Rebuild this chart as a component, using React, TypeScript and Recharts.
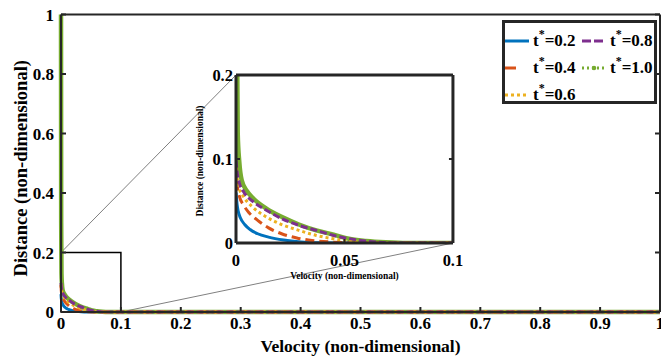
import React from 'react';
import {
  LineChart,
  Line,
  XAxis,
  YAxis,
  ReferenceArea,
  ReferenceLine,
  Legend,
  CartesianGrid,
} from 'recharts';

// ---------------- data ----------------
const VEL_T02 = [0, 0.0005, 0.001, 0.002, 0.004, 0.0065, 0.01, 0.015, 0.022, 0.03, 0.04, 0.05, 1];
const DIST_T02 = [0.06, 0.046, 0.038, 0.03, 0.022, 0.016, 0.011, 0.007, 0.0035, 0.0013, 0.0003, 0, 0];

const VEL_T04 = [0, 0.0005, 0.0015, 0.0035, 0.006, 0.01, 0.015, 0.021, 0.028, 0.035, 0.045, 0.055, 1];
const DIST_T04 = [0.09, 0.07, 0.056, 0.045, 0.036, 0.027, 0.018, 0.011, 0.006, 0.003, 0.001, 0, 0];

const VEL_T06 = [0, 0.0005, 0.0015, 0.0035, 0.008, 0.014, 0.021, 0.029, 0.037, 0.045, 0.053, 0.062, 1];
const DIST_T06 = [0.092, 0.078, 0.065, 0.055, 0.042, 0.031, 0.022, 0.015, 0.009, 0.005, 0.002, 0, 0];

const VEL_T08 = [0, 0.0005, 0.0015, 0.0035, 0.008, 0.014, 0.021, 0.029, 0.037, 0.045, 0.055, 0.065, 0.072, 1];
const DIST_T08 = [0.098, 0.085, 0.072, 0.061, 0.049, 0.039, 0.029, 0.021, 0.015, 0.009, 0.004, 0.001, 0, 0];

const VEL_T10 = [0, 0.0003, 0.0008, 0.0015, 0.0026, 0.005, 0.008, 0.014, 0.022, 0.029, 0.037, 0.045, 0.052, 0.06, 0.069, 0.079, 1];
const DIST_T10 = [1, 0.3, 0.13, 0.097, 0.075, 0.062, 0.053, 0.041, 0.03, 0.022, 0.015, 0.01, 0.005, 0.0024, 0.0008, 0, 0];

const SERIES_NAMES = ['t*=0.2', 't*=0.4', 't*=0.6', 't*=0.8', 't*=1.0'];

const MAIN_X_TICKS = [0, 0.1, 0.2, 0.3, 0.4, 0.5, 0.6, 0.7, 0.8, 0.9, 1];
const MAIN_Y_TICKS = [0, 0.2, 0.4, 0.6, 0.8, 1];
const INSET_X_TICKS = [0, 0.05, 0.1];
const INSET_Y_TICKS = [0, 0.1, 0.2];

const ZOOM_X = [0, 0.1];
const ZOOM_Y = [0, 0.2];
// inset placement, expressed in the main chart's data coordinates
const INSET_BOX_X = [0.2922, 0.6544];
const INSET_BOX_Y = [0.2319, 0.7966];

const X_TITLE = 'Velocity (non-dimensional)';
const Y_TITLE = 'Distance (non-dimensional)';

// ---------------- styles ----------------
const zip = (v: number[], d: number[]) => v.map((x, i) => ({ v: x, d: d[i] }));

type Series = {
  name: string;
  data: { v: number; d: number }[];
  color: string;
  width: number;
  dash?: string;
  legendDash?: string;
  marker?: boolean;
};

const SERIES: Series[] = [
  { name: SERIES_NAMES[0], data: zip(VEL_T02, DIST_T02), color: '#0072BD', width: 3 },
  { name: SERIES_NAMES[1], data: zip(VEL_T04, DIST_T04), color: '#D95319', width: 3, dash: '9 5', legendDash: '11 13' },
  { name: SERIES_NAMES[2], data: zip(VEL_T06, DIST_T06), color: '#EDB120', width: 3, dash: '3 3', legendDash: '3 3' },
  { name: SERIES_NAMES[3], data: zip(VEL_T08, DIST_T08), color: '#7E2F8E', width: 3, dash: '7 3', legendDash: '9 3' },
  { name: SERIES_NAMES[4], data: zip(VEL_T10, DIST_T10), color: '#77AC30', width: 4.5, legendDash: '2 3', marker: true },
];
// drawing order (bottom to top)
const DRAW_ORDER = [0, 4, 1, 2, 3];

const FONT = '"Liberation Serif", "Times New Roman", serif';
const AXIS_COLOR = '#262626';

const MAIN = { width: 661, height: 362, left: 61, right: 660, top: 14.5, bottom: 312 };
const MAIN_W = MAIN.right - MAIN.left;
const MAIN_H = MAIN.bottom - MAIN.top;

const insetLeft = MAIN.left + INSET_BOX_X[0] * MAIN_W;
const insetRight = MAIN.left + INSET_BOX_X[1] * MAIN_W;
const insetTop = MAIN.bottom - INSET_BOX_Y[1] * MAIN_H;
const insetBottom = MAIN.bottom - INSET_BOX_Y[0] * MAIN_H;
const INSET_YW = 46;
const INSET_TOPM = 15;
const INSET_XH = 40;
const INSET_BOTM = 7;
const INSET_RIGHTM = 16;

const tickStyle = { fill: '#000', fontSize: 17, fontWeight: 'bold', fontFamily: FONT };
const insetTickStyle = { fill: '#000', fontSize: 16.5, fontWeight: 'bold', fontFamily: FONT };

const renderLegend = (props: any) => {
  const payload: any[] = props.payload || [];
  const items = SERIES.map((s) => ({ s, entry: payload.find((p) => p.value === s.name) })).filter(
    (x) => x.entry
  );
  return (
    <div
      style={{
        boxSizing: 'border-box',
        width: 155,
        height: 84,
        border: `3px solid ${AXIS_COLOR}`,
        background: '#fff',
        display: 'grid',
        gridTemplateColumns: '77px 72px',
        gridTemplateRows: 'repeat(3, 27px)',
        gridAutoFlow: 'column',
        paddingTop: 4,
        fontFamily: FONT,
        fontWeight: 'bold',
        fontSize: 17,
        color: '#000',
      }}
    >
      {items.map(({ s, entry }) => (
        <div key={s.name} style={{ display: 'flex', alignItems: 'center' }}>
          <svg width={25} height={10} style={{ display: 'block' }}>
            <line
              x1={0}
              x2={24}
              y1={5}
              y2={5}
              stroke={entry.color}
              strokeWidth={3}
              strokeDasharray={s.legendDash}
            />
            {s.marker ? <circle cx={12} cy={5} r={2.3} fill={entry.color} /> : null}
          </svg>
          <span style={{ marginLeft: 3, lineHeight: 1, whiteSpace: 'nowrap' }}>
            {entry.value.slice(0, 1)}
            <span style={{ fontSize: 12, position: 'relative', top: -8 }}>*</span>
            {entry.value.slice(2)}
          </span>
        </div>
      ))}
    </div>
  );
};

const renderLines = (key: string) =>
  DRAW_ORDER.map((i) => {
    const s = SERIES[i];
    return (
      <Line
        key={key + s.name}
        data={s.data}
        dataKey="d"
        name={s.name}
        type="monotone"
        stroke={s.color}
        strokeWidth={s.width}
        strokeDasharray={s.dash}
        strokeLinecap="butt"
        dot={false}
        activeDot={false}
        isAnimationActive={false}
        legendType="line"
      />
    );
  });

const InsetChart = () => {
  const w = insetRight - insetLeft + INSET_YW + INSET_RIGHTM + 1;
  const h = insetBottom - insetTop + INSET_TOPM + INSET_XH + INSET_BOTM;
  return (
    <div style={{ position: 'absolute', left: insetLeft - INSET_YW, top: insetTop - INSET_TOPM }}>
      <LineChart
        width={w}
        height={h}
        margin={{ top: INSET_TOPM - 1, right: INSET_RIGHTM, bottom: INSET_BOTM, left: 0 }}
      >
        <CartesianGrid horizontal={false} vertical={false} fill="#fff" />
        <XAxis
          type="number"
          dataKey="v"
          domain={[ZOOM_X[0], ZOOM_X[1]]}
          allowDataOverflow
          ticks={INSET_X_TICKS}
          interval={0}
          height={INSET_XH}
          tickSize={-4}
          tickMargin={15}
          tick={insetTickStyle}
          axisLine={{ stroke: AXIS_COLOR, strokeWidth: 3 }}
          tickLine={{ stroke: AXIS_COLOR, strokeWidth: 2 }}
          label={{
            value: X_TITLE,
            position: 'insideBottom',
            offset: 4,
            fill: '#000',
            fontSize: 9.5,
            fontWeight: 'bold',
            fontFamily: FONT,
          }}
        />
        <XAxis
          xAxisId="top"
          orientation="top"
          type="number"
          domain={[ZOOM_X[0], ZOOM_X[1]]}
          allowDataOverflow
          ticks={INSET_X_TICKS}
          interval={0}
          height={1}
          tickSize={-4}
          tickFormatter={() => ''}
          axisLine={{ stroke: AXIS_COLOR, strokeWidth: 3 }}
          tickLine={{ stroke: AXIS_COLOR, strokeWidth: 2 }}
        />
        <YAxis
          type="number"
          domain={[ZOOM_Y[0], ZOOM_Y[1]]}
          allowDataOverflow
          ticks={INSET_Y_TICKS}
          interval={0}
          width={INSET_YW}
          tickSize={-4}
          tickMargin={7}
          tick={insetTickStyle}
          axisLine={{ stroke: AXIS_COLOR, strokeWidth: 3 }}
          tickLine={{ stroke: AXIS_COLOR, strokeWidth: 2 }}
          label={{
            value: Y_TITLE,
            position: 'center',
            angle: -90,
            dx: -13,
            dy: 2,
            fill: '#000',
            fontSize: 9.5,
            fontWeight: 'bold',
            fontFamily: FONT,
          }}
        />
        <YAxis
          yAxisId="right"
          orientation="right"
          type="number"
          domain={[ZOOM_Y[0], ZOOM_Y[1]]}
          allowDataOverflow
          ticks={INSET_Y_TICKS}
          interval={0}
          width={1}
          tickSize={-4}
          tickFormatter={() => ''}
          axisLine={{ stroke: AXIS_COLOR, strokeWidth: 3 }}
          tickLine={{ stroke: AXIS_COLOR, strokeWidth: 2 }}
        />
        {renderLines('inset')}
      </LineChart>
    </div>
  );
};

export default function App() {
  return (
    <div
      style={{
        position: 'absolute',
        left: 0,
        top: 0,
        width: MAIN.width,
        height: MAIN.height,
        background: '#fff',
        overflow: 'hidden',
      }}
    >
      <LineChart
        width={MAIN.width}
        height={MAIN.height}
        margin={{
          top: MAIN.top - 1,
          right: MAIN.width - MAIN.right - 1,
          bottom: MAIN.height - MAIN.bottom - 40,
          left: 0,
        }}
      >
        <XAxis
          type="number"
          dataKey="v"
          domain={[0, 1]}
          ticks={MAIN_X_TICKS}
          interval={0}
          height={40}
          tickSize={-5}
          tickMargin={10}
          tick={tickStyle}
          axisLine={{ stroke: AXIS_COLOR, strokeWidth: 2 }}
          tickLine={{ stroke: AXIS_COLOR, strokeWidth: 2 }}
          label={{
            value: X_TITLE,
            position: 'insideBottom',
            offset: 0,
            fill: '#000',
            fontSize: 17.5,
            fontWeight: 'bold',
            fontFamily: FONT,
          }}
        />
        <XAxis
          xAxisId="top"
          orientation="top"
          type="number"
          domain={[0, 1]}
          allowDataOverflow
          ticks={MAIN_X_TICKS}
          interval={0}
          height={1}
          tickSize={-5}
          tickFormatter={() => ''}
          axisLine={{ stroke: AXIS_COLOR, strokeWidth: 2 }}
          tickLine={{ stroke: AXIS_COLOR, strokeWidth: 2 }}
        />
        <YAxis
          type="number"
          domain={[0, 1]}
          ticks={MAIN_Y_TICKS}
          interval={0}
          width={MAIN.left}
          tickSize={-5}
          tickMargin={12}
          tick={tickStyle}
          axisLine={{ stroke: AXIS_COLOR, strokeWidth: 2 }}
          tickLine={{ stroke: AXIS_COLOR, strokeWidth: 2 }}
          label={{
            value: Y_TITLE,
            position: 'center',
            angle: -90,
            dx: -10,
            dy: 5,
            fill: '#000',
            fontSize: 18.5,
            fontWeight: 'bold',
            fontFamily: FONT,
          }}
        />
        <YAxis
          yAxisId="right"
          orientation="right"
          type="number"
          domain={[0, 1]}
          allowDataOverflow
          ticks={MAIN_Y_TICKS}
          interval={0}
          width={1}
          tickSize={-5}
          tickFormatter={() => ''}
          axisLine={{ stroke: AXIS_COLOR, strokeWidth: 2 }}
          tickLine={{ stroke: AXIS_COLOR, strokeWidth: 2 }}
        />
        <ReferenceArea
          x1={ZOOM_X[0]}
          x2={ZOOM_X[1]}
          y1={ZOOM_Y[0]}
          y2={ZOOM_Y[1]}
          fill="none"
          fillOpacity={0}
          stroke="#000"
          strokeWidth={1.5}
          ifOverflow="visible"
        />
        <ReferenceLine
          segment={[
            { x: ZOOM_X[0], y: ZOOM_Y[1] },
            { x: INSET_BOX_X[0], y: INSET_BOX_Y[1] },
          ]}
          stroke="#808080"
          strokeWidth={1}
          ifOverflow="visible"
        />
        <ReferenceLine
          segment={[
            { x: ZOOM_X[1], y: ZOOM_Y[0] },
            { x: INSET_BOX_X[1], y: INSET_BOX_Y[0] },
          ]}
          stroke="#808080"
          strokeWidth={1}
          ifOverflow="visible"
        />
        {renderLines('main')}
        <Legend
          layout="vertical"
          align="center"
          verticalAlign="middle"
          content={renderLegend}
          wrapperStyle={{ position: 'absolute', left: 502, top: 20, width: 155, height: 84 }}
        />
      </LineChart>
      <InsetChart />
    </div>
  );
}
